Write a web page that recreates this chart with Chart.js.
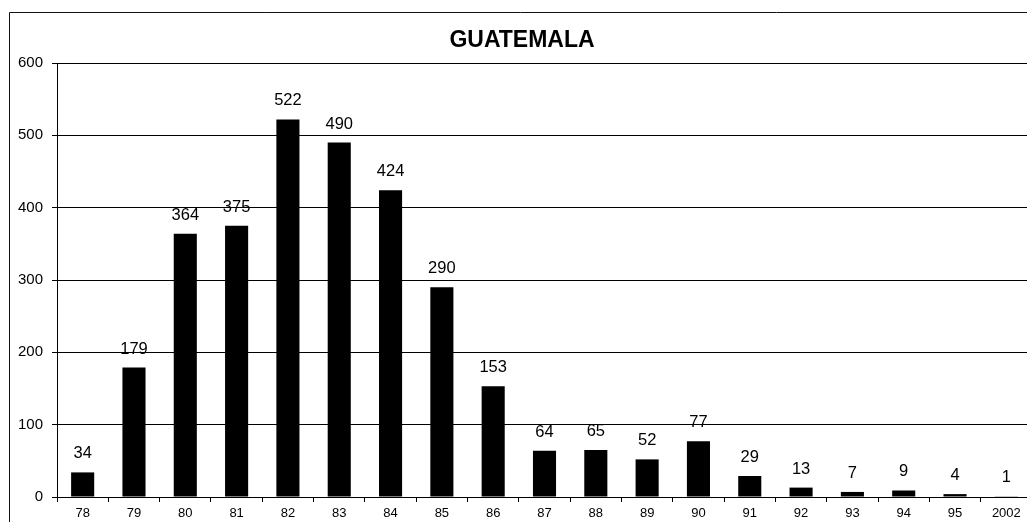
<!DOCTYPE html>
<html>
<head>
<meta charset="utf-8">
<script src="https://cdn.jsdelivr.net/npm/chart.js@4"></script>
<style>
  body { margin: 0; background: #fff; }
  #wrap { width: 1027px; height: 522px; overflow: hidden; position: relative; }
</style>
</head>
<body>
<div id="wrap"><canvas id="michael" width="1032" height="522"></canvas></div>
<script>
var years = ["78","79","80","81","82","83","84","85","86","87","88","89","90","91","92","93","94","95","2002"];
var counts = [34,179,364,375,522,490,424,290,153,64,65,52,77,29,13,7,9,4,1];
var yTicks = [0,100,200,300,400,500,600];
var title = "GUATEMALA";

var FONT = '"Liberation Sans", Arial, sans-serif';

// frame, title and the numbers on top of the bars
var extras = {
  id: 'extras',
  beforeDraw: function(chart) {
    var c = chart.ctx;
    c.save();
    c.fillStyle = '#fff';
    c.fillRect(0, 0, chart.width, chart.height);
    c.strokeStyle = '#111';
    c.lineWidth = 1;
    c.beginPath();
    c.moveTo(9.5, chart.height);
    c.lineTo(9.5, 12.5);
    c.lineTo(chart.width, 12.5);
    c.stroke();
    c.restore();
  },
  afterDatasetsDraw: function(chart) {
    var c = chart.ctx;
    c.save();
    c.fillStyle = '#000';
    c.font = 'bold 23px ' + FONT;
    c.textAlign = 'center';
    c.textBaseline = 'middle';
    c.fillText(title, 522, 41);

    c.font = '16.5px ' + FONT;
    c.textBaseline = 'alphabetic';
    var meta = chart.getDatasetMeta(0);
    meta.data.forEach(function(bar, i) {
      c.fillText(String(counts[i]), bar.x, bar.y - 14);
    });
    c.restore();
  }
};

var ctx = document.getElementById("michael").getContext("2d");
var myChart = new Chart(ctx, {
  type: 'bar',
  data: {
    labels: years,
    datasets: [{
      data: counts,
      backgroundColor: '#000',
      borderWidth: 0,
      barPercentage: 0.45,
      categoryPercentage: 1
    }]
  },
  options: {
    responsive: false,
    animation: false,
    layout: { padding: { top: 63, right: 0, bottom: 0, left: 0 } },
    plugins: {
      legend: { display: false },
      tooltip: { enabled: false },
      title: { display: false }
    },
    scales: {
      x: {
        offset: true,
        grid: { display: true, drawOnChartArea: false, offset: true, tickLength: 5, color: '#000' },
        border: { color: '#000' },
        ticks: { color: '#000', font: { family: FONT, size: 13 }, padding: 4, maxRotation: 0, autoSkip: false },
        afterFit: function(s) { s.height = 25; }
      },
      y: {
        min: 0,
        max: 600,
        afterBuildTicks: function(s) { s.ticks = yTicks.map(function(v) { return { value: v }; }); },
        grid: { color: '#000', tickLength: 5 },
        border: { color: '#000' },
        ticks: { color: '#000', font: { family: FONT, size: 15 }, padding: 9 },
        afterFit: function(s) { s.width = 57; }
      }
    }
  },
  plugins: [extras]
});
</script>
</body>
</html>
